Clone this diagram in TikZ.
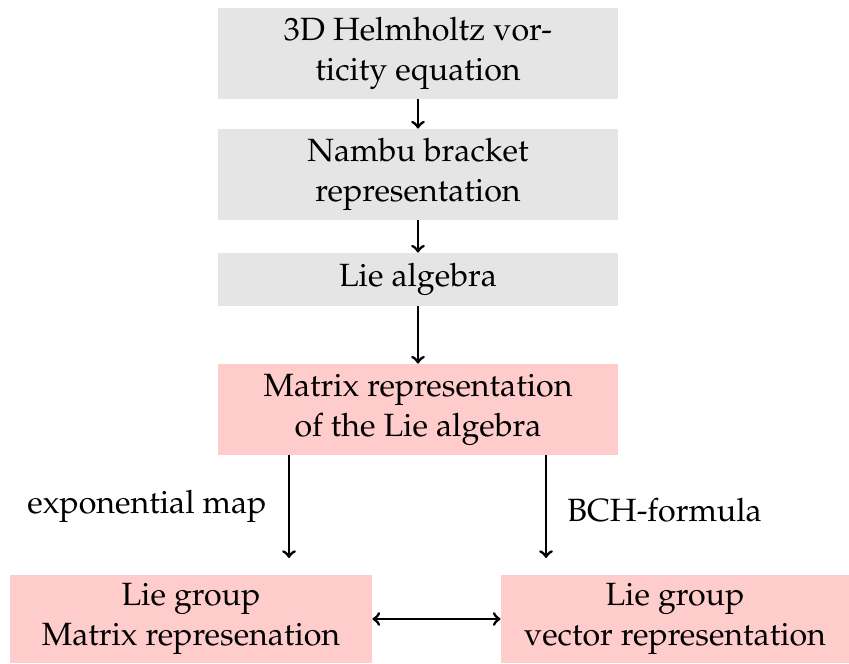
\documentclass[tikz,border=0pt]{standalone}
\usepackage[T1]{fontenc}
\usepackage{mathpazo}
\definecolor{boxgray}{RGB}{229,229,229}
\definecolor{boxpink}{RGB}{255,204,204}
\tikzset{
  base/.style={inner sep=0pt, align=center, font=\fontsize{16.1}{20}\selectfont},
  graybox/.style={base, fill=boxgray},
  pinkbox/.style={base, fill=boxpink},
  conn/.style={->, line width=1.45pt},
  lbl/.style={font=\fontsize{16.1}{20}\selectfont, inner sep=0pt}
}
\begin{document}
\begin{tikzpicture}[x=0.5pt,y=-0.5pt]
\useasboundingbox (0,0) rectangle (849,663);
\node[graybox, minimum width=200pt, minimum height=45.5pt] (b1) at (418,53.5) {3D Helmholtz vor-\\ticity equation};
\node[graybox, minimum width=200pt, minimum height=45.5pt] (b2) at (418,174.5) {Nambu bracket\\representation};
\node[graybox, minimum width=200pt, minimum height=26.5pt] (b3) at (418,279.5) {Lie algebra};
\node[pinkbox, minimum width=200pt, minimum height=45.5pt] (b4) at (418,409.5) {Matrix representation\\of the Lie algebra};
\node[pinkbox, minimum width=181pt, minimum height=44pt] (b5) at (191,619) {Lie group\\Matrix represenation};
\node[pinkbox, minimum width=174pt, minimum height=44pt] (b6) at (675,619) {Lie group\\vector representation};
\coordinate (e1) at (289,558);
\coordinate (e2) at (546,558);
\draw[conn] (b1) -- (b2);
\draw[conn] (b2) -- (b3);
\draw[conn] (b3) -- (b4);
\draw[conn] (b4.south -| e1) -- node[lbl, left=10.5pt] {exponential map} (e1);
\draw[conn] (b4.south -| e2) -- node[lbl, right=10pt, yshift=-1.5pt] {BCH-formula} (e2);
\draw[conn, <->] (b5) -- (b6);
\end{tikzpicture}
\end{document}
